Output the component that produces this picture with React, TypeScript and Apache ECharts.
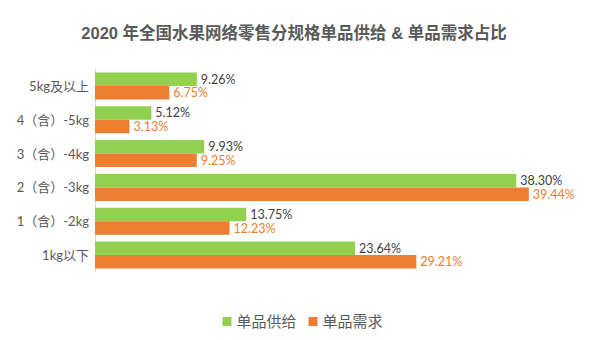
import React, { useEffect, useRef } from "react";
import * as echarts from "echarts";

const categories = ["5kg及以上", "4（含）-5kg", "3（含）-4kg", "2（含）-3kg", "1（含）-2kg", "1kg以下"];
const supplyValues = [9.26, 5.12, 9.93, 38.3, 13.75, 23.64];
const demandValues = [6.75, 3.13, 9.25, 39.44, 12.23, 29.21];
const seriesNames = ["单品供给", "单品需求"];
const titleText = "2020 年全国水果网络零售分规格单品供给 & 单品需求占比";

const FONT = "Lato, 'Noto Sans CJK SC', sans-serif";
const AXIS_FONT = "Lato, 'Noto Sans CJK TC', sans-serif";

export default function App() {
  const ref = useRef<HTMLDivElement>(null);
  useEffect(() => {
    if (!ref.current) return;
    const chart = echarts.init(ref.current, undefined, { renderer: "svg" });
    chart.setOption({
      animation: false,
      backgroundColor: "#ffffff",
      title: {
        text: titleText,
        left: 289,
        textAlign: "center",
        top: 20,
        textStyle: {
          fontSize: 16.5,
          fontWeight: "bold",
          color: "#595959",
          fontFamily: "'Liberation Sans', 'Noto Sans CJK SC', sans-serif",
        },
      },
      legend: {
        data: seriesNames,
        bottom: 6,
        left: "center",
        itemWidth: 9,
        itemHeight: 9,
        itemGap: 12,
        icon: "rect",
        textStyle: { fontSize: 15, color: "#595959", fontFamily: FONT },
      },
      grid: { left: 95, width: 440, top: 69, height: 203, containLabel: false },
      xAxis: {
        type: "value",
        min: 0,
        max: 40,
        show: false,
      },
      yAxis: {
        type: "category",
        inverse: true,
        data: categories,
        axisTick: { show: false },
        axisLine: { show: true, lineStyle: { color: "#d9d9d9" } },
        axisLabel: {
          color: "#595959",
          fontSize: 13,
          fontFamily: AXIS_FONT,
          margin: 6,
        },
      },
      series: [
        {
          name: seriesNames[0],
          type: "bar",
          data: supplyValues,
          barGap: "0%",
          barCategoryGap: "20%",
          itemStyle: { color: "#92D050" },
          label: {
            show: true,
            position: "right",
            distance: 4,
            formatter: (p: any) => p.value.toFixed(2) + "%",
            color: "#404040",
            fontSize: 12.5,
            fontFamily: FONT,
          },
        },
        {
          name: seriesNames[1],
          type: "bar",
          data: demandValues,
          barGap: "0%",
          barCategoryGap: "20%",
          itemStyle: { color: "#ED7D31" },
          label: {
            show: true,
            position: "right",
            distance: 4,
            formatter: (p: any) => p.value.toFixed(2) + "%",
            color: "#ED7D31",
            fontSize: 12.5,
            fontFamily: FONT,
          },
        },
      ],
    });
    return () => chart.dispose();
  }, []);
  return (
    <div
      ref={ref}
      style={{ position: "absolute", left: 0, top: 0, width: 605, height: 340 }}
    />
  );
}
